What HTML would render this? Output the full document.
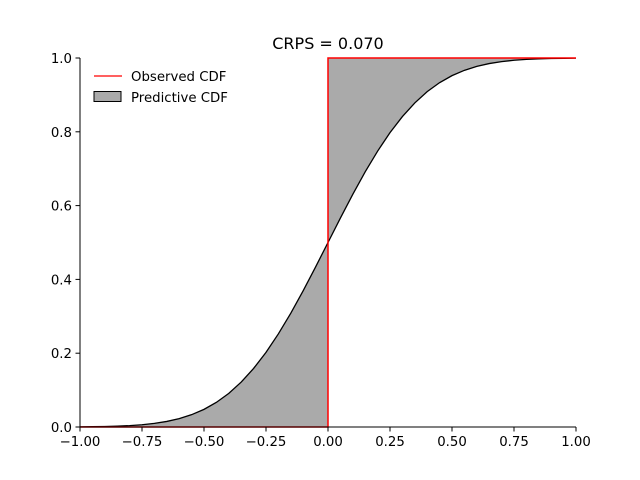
<!DOCTYPE html>
<html><head><meta charset="utf-8"><style>
body{margin:0;background:#fff;}
svg{display:block;font-family:"DejaVu Sans","Liberation Sans",sans-serif;}
</style></head><body>
<svg id="chart" width="640" height="480" viewBox="0 0 640 480" xmlns="http://www.w3.org/2000/svg">
<rect width="640" height="480" fill="#fff"/>
<text x="328" y="49" font-size="16" text-anchor="middle">CRPS = 0.070</text>
<g id="plot"></g>
<g id="axes"></g>
<g>
<line x1="94" y1="76" x2="122" y2="76" stroke="red" stroke-width="1.3"/>
<text x="131" y="81" font-size="13.3">Observed CDF</text>
<rect x="94" y="91.5" width="27" height="10" fill="#aaaaaa" stroke="#000" stroke-width="1"/>
<text x="131" y="102" font-size="13.3">Predictive CDF</text>
</g>
</svg>
<script>
const xValues=[-1,-0.95,-0.9,-0.85,-0.8,-0.75,-0.7,-0.65,-0.6,-0.55,-0.5,-0.45,-0.4,-0.35,-0.3,-0.25,-0.2,-0.15,-0.1,-0.05,0,0.05,0.1,0.15,0.2,0.25,0.3,0.35,0.4,0.45,0.5,0.55,0.6,0.65,0.7,0.75,0.8,0.85,0.9,0.95,1];
const predictiveCdf=[0.0004,0.0008,0.0013,0.0023,0.0038,0.0062,0.0098,0.0151,0.0228,0.0334,0.0478,0.0668,0.0912,0.1217,0.1587,0.2023,0.2525,0.3085,0.3694,0.4338,0.5,0.5662,0.6306,0.6915,0.7475,0.7977,0.8413,0.8783,0.9088,0.9332,0.9522,0.9666,0.9772,0.9849,0.9902,0.9938,0.9962,0.9977,0.9987,0.9992,0.9996];
const observation=[0];
const xTicks=[-1,-0.75,-0.5,-0.25,0,0.25,0.5,0.75,1];
const xTickLabels=["\u22121.00","\u22120.75","\u22120.50","\u22120.25","0.00","0.25","0.50","0.75","1.00"];
const yTicks=[0,0.2,0.4,0.6,0.8,1];
const yTickLabels=["0.0","0.2","0.4","0.6","0.8","1.0"];
const L=80,R=576,T=58,B=427;
const sx=v=>L+(v+1)/2*(R-L);
const sy=v=>B-v*(B-T);
const NS="http://www.w3.org/2000/svg";
function mk(tag,attrs,parent){const e=document.createElementNS(NS,tag);for(const k in attrs)e.setAttribute(k,attrs[k]);parent.appendChild(e);return e;}
const plot=document.getElementById('plot'),axes=document.getElementById('axes');
const obs=observation[0];
let dl="M"+sx(xValues[0])+","+sy(0);
let dr="";
const left=[],right=[];
xValues.forEach((x,i)=>{if(x<=obs)left.push([x,predictiveCdf[i]]);if(x>=obs)right.push([x,predictiveCdf[i]]);});
left.forEach(p=>dl+=" L"+sx(p[0])+","+sy(p[1]));
dl+=" L"+sx(obs)+","+sy(0)+" Z";
const f1=mk('path',{d:dl,fill:"#aaaaaa"},plot);


dr="M"+sx(obs)+","+sy(1);
right.forEach(p=>dr+=" L"+sx(p[0])+","+sy(p[1]));
dr+=" L"+sx(right[right.length-1][0])+","+sy(1)+" Z";
const f2=mk('path',{d:dr,fill:"#aaaaaa"},plot);


const pl=mk('polyline',{points:xValues.map((x,i)=>sx(x)+","+sy(predictiveCdf[i])).join(" "),fill:"none",stroke:"#000","stroke-width":1.3},plot);


const ol=mk('polyline',{points:[sx(-1)+","+sy(0),sx(obs)+","+sy(0),sx(obs)+","+sy(1),sx(1)+","+sy(1)].join(" "),fill:"none",stroke:"red","stroke-width":1.5},plot);


const xa=mk('line',{x1:L,y1:B,x2:R,y2:B,stroke:"#000","stroke-width":1},axes);


const ya=mk('line',{x1:L,y1:T,x2:L,y2:B,stroke:"#000","stroke-width":1},axes);


xTicks.forEach((v,i)=>{
 const t=mk('line',{x1:sx(v),y1:B,x2:sx(v),y2:B+4.5,stroke:"#000"},axes);
 
 
 const tx=mk('text',{x:sx(v),y:B+19,"font-size":13.3,"text-anchor":"middle"},axes);
 tx.textContent=xTickLabels[i];
 
 
});
yTicks.forEach((v,i)=>{
 const t=mk('line',{x1:L-4.5,y1:sy(v),x2:L,y2:sy(v),stroke:"#000"},axes);
 
 
 const tx=mk('text',{x:L-8,y:sy(v)+5,"font-size":13.3,"text-anchor":"end"},axes);
 tx.textContent=yTickLabels[i];
 
 
});
</script>
</body></html>
